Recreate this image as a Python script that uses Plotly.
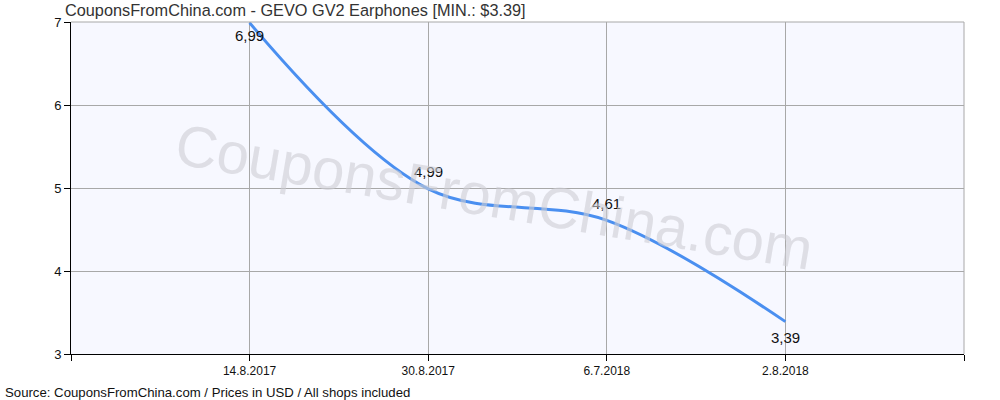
import plotly.graph_objects as go

dates = ["14.8.2017", "30.8.2017", "6.7.2018", "2.8.2018"]
prices = [6.99, 4.99, 4.61, 3.39]
price_labels = ["6,99", "4,99", "4,61", "3,39"]
label_shift = [-13, 17, 17, -16]

xs = list(range(len(dates)))

FONT = "Liberation Sans, Arial"
L, R, T, B = 71, 36, 22, 46
PW, PH = 1000 - L - R, 400 - T - B

fig = go.Figure()
fig.add_trace(go.Scatter(
    x=xs, y=prices, mode="lines",
    line=dict(color="#4a8ff0", width=3, shape="spline", smoothing=1.0),
    hoverinfo="skip", showlegend=False,
))
for xi, yi, lab, sh in zip(xs, prices, price_labels, label_shift):
    fig.add_annotation(x=xi, y=yi, text=lab, showarrow=False, yshift=sh,
                       xanchor="center", yanchor="middle",
                       font=dict(family=FONT, size=15, color="#111"))

# watermark
fig.add_annotation(
    text="CouponsFromChina.com", xref="paper", yref="paper",
    x=(494 - L) / PW, y=(400 - B - 196) / PH, xanchor="center", yanchor="middle",
    showarrow=False, textangle=9.5,
    font=dict(family=FONT, size=58, color="rgba(205,205,212,0.6)"),
)
# title
fig.add_annotation(
    text="CouponsFromChina.com - GEVO GV2 Earphones [MIN.: $3.39]",
    xref="paper", yref="paper", x=(63 - L) / PW, y=(400 - B - 10) / PH,
    xanchor="left", yanchor="middle", showarrow=False,
    font=dict(family=FONT, size=16.3, color="#333"),
)
# footer
fig.add_annotation(
    text="Source: CouponsFromChina.com / Prices in USD / All shops included",
    xref="paper", yref="paper", x=(3 - L) / PW, y=(400 - B - 393) / PH,
    xanchor="left", yanchor="middle", showarrow=False,
    font=dict(family=FONT, size=13.2, color="#111"),
)

fig.update_layout(
    width=1000, height=400,
    margin=dict(l=L, r=R, t=T, b=B, autoexpand=False),
    paper_bgcolor="white", plot_bgcolor="#f7f8ff",
    xaxis=dict(range=[-1, 4], tickmode="array", tickvals=[-1] + xs + [4],
               ticktext=[""] + dates + [""],
               showgrid=True, gridcolor="#a8a8a8", gridwidth=1,
               showline=True, linecolor="black", linewidth=1, mirror=False,
               ticks="outside", ticklen=6, tickcolor="black",
               tickfont=dict(family=FONT, size=12, color="#111"),
               zeroline=False, fixedrange=True, automargin=False),
    yaxis=dict(range=[3, 7], tickvals=[3, 4, 5, 6, 7],
               showgrid=True, gridcolor="#a8a8a8", gridwidth=1,
               showline=True, linecolor="black", linewidth=1,
               ticks="outside", ticklen=6, tickcolor="black",
               tickfont=dict(family=FONT, size=13, color="#111"),
               zeroline=False, fixedrange=True, automargin=False),
)
# top and right borders (grey)
fig.add_shape(type="line", xref="paper", yref="paper", x0=0, x1=1, y0=1, y1=1,
              line=dict(color="#a8a8a8", width=1))
fig.add_shape(type="line", xref="paper", yref="paper", x0=1, x1=1, y0=0, y1=1,
              line=dict(color="#a8a8a8", width=1))

fig.write_html("out.html", post_script="document.body.style.margin='0px';",
               config={"displayModeBar": False})
